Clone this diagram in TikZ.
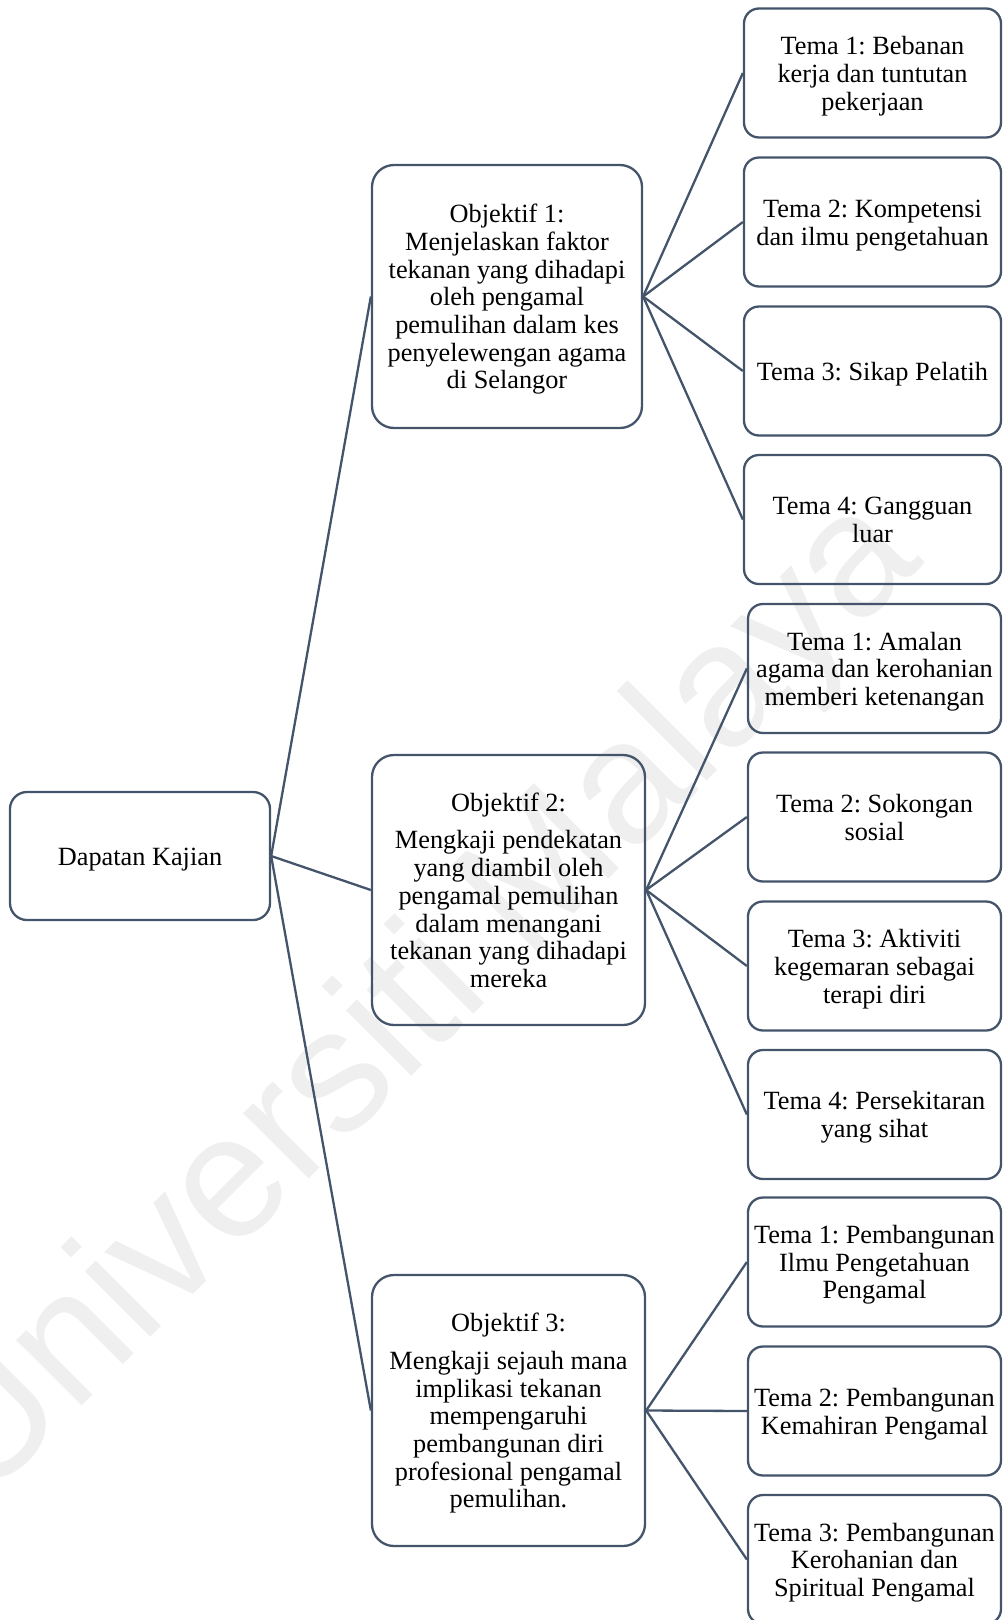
\documentclass[tikz,border=0pt]{standalone}
\usepackage{fontspec}
\setmainfont{Liberation Serif}
\newfontfamily\wmfont{Liberation Sans}
\definecolor{ln}{HTML}{44546A}
\definecolor{wm}{HTML}{EFEFEF}
\frenchspacing
\newcommand\mytopstrut{\rule{0pt}{24.2pt}}
\begin{document}
\begin{tikzpicture}[x=1pt,y=-1pt,
  box/.style={draw=ln, line width=2.3pt, rounded corners=15pt, align=center, inner sep=2pt,
    font=\fontsize{26.3}{27.7}\selectfont, text=black,
    execute at end node={\rule[-5.6pt]{0pt}{5.6pt}}},
  rootbox/.style={box, minimum width=260pt, minimum height=128pt, rounded corners=17pt},
  objbox/.style={box, minimum width=272pt, minimum height=268pt, rounded corners=22pt},
  temaA/.style={box, minimum width=257pt, minimum height=129pt},
  temaB/.style={box, minimum width=253pt, minimum height=129pt},
  link/.style={draw=ln, line width=2.3pt}]
\path[use as bounding box] (0,0) rectangle (1003,1620);
\clip (0,0) rectangle (1003,1620);
% watermark
\node[rotate=45, anchor=base, inner sep=0pt, text=wm,
  font=\wmfont\fontsize{175}{175}\selectfont] (wmark) at (455,1033) {Universiti Malaya};
% root
\node[rootbox] (root) at (140,856) {\mytopstrut Dapatan Kajian};
% objectives
\node[objbox, minimum height=263pt, minimum width=270pt] (o1) at (507,296.5)
  {\mytopstrut Objektif 1:\\Menjelaskan faktor\\tekanan yang dihadapi\\oleh pengamal\\pemulihan dalam kes\\penyelewengan agama\\di Selangor};
\node[objbox, minimum height=270pt, minimum width=273pt] (o2) at (508.5,890)
  {\mytopstrut Objektif 2:\\[10pt]Mengkaji pendekatan\\yang diambil oleh\\pengamal pemulihan\\dalam menangani\\tekanan yang dihadapi\\mereka};
\node[objbox, minimum height=271pt, minimum width=273pt] (o3) at (508.5,1410.5)
  {\mytopstrut Objektif 3:\\[10pt]Mengkaji sejauh mana\\implikasi tekanan\\mempengaruhi\\pembangunan diri\\profesional pengamal\\pemulihan.};
% themes group 1
\node[temaA] (a1) at (872.5,73) {\mytopstrut Tema 1: Bebanan\\kerja dan tuntutan\\pekerjaan};
\node[temaA] (a2) at (872.5,222) {\mytopstrut Tema 2: Kompetensi\\dan ilmu pengetahuan};
\node[temaA] (a3) at (872.5,371) {\mytopstrut Tema 3: Sikap Pelatih};
\node[temaA] (a4) at (872.5,519.5) {\mytopstrut Tema 4: Gangguan\\luar};
% themes group 2
\node[temaB] (b1) at (874.5,668.5) {\mytopstrut Tema 1: Amalan\\agama dan kerohanian\\memberi ketenangan};
\node[temaB] (b2) at (874.5,817) {\mytopstrut Tema 2: Sokongan\\sosial};
\node[temaB] (b3) at (874.5,966) {\mytopstrut Tema 3: Aktiviti\\kegemaran sebagai\\terapi diri};
\node[temaB] (b4) at (874.5,1114.5) {\mytopstrut Tema 4: Persekitaran\\yang sihat};
% themes group 3
\node[temaB] (c1) at (874.5,1262) {\mytopstrut Tema 1: Pembangunan\\Ilmu Pengetahuan\\Pengamal};
\node[temaB] (c2) at (874.5,1411) {\mytopstrut Tema 2: Pembangunan\\Kemahiran Pengamal};
\node[temaB] (c3) at (874.5,1559.5) {\mytopstrut Tema 3: Pembangunan\\Kerohanian dan\\Spiritual Pengamal};
% connectors
\foreach \o in {o1,o2,o3} \draw[link] (root.east) -- (\o.west);
\foreach \t in {a1,a2,a3,a4} \draw[link] (o1.east) -- (\t.west);
\foreach \t in {b1,b2,b3,b4} \draw[link] (o2.east) -- (\t.west);
\foreach \t in {c1,c2,c3} \draw[link] (o3.east) -- (\t.west);
\end{tikzpicture}
\end{document}
